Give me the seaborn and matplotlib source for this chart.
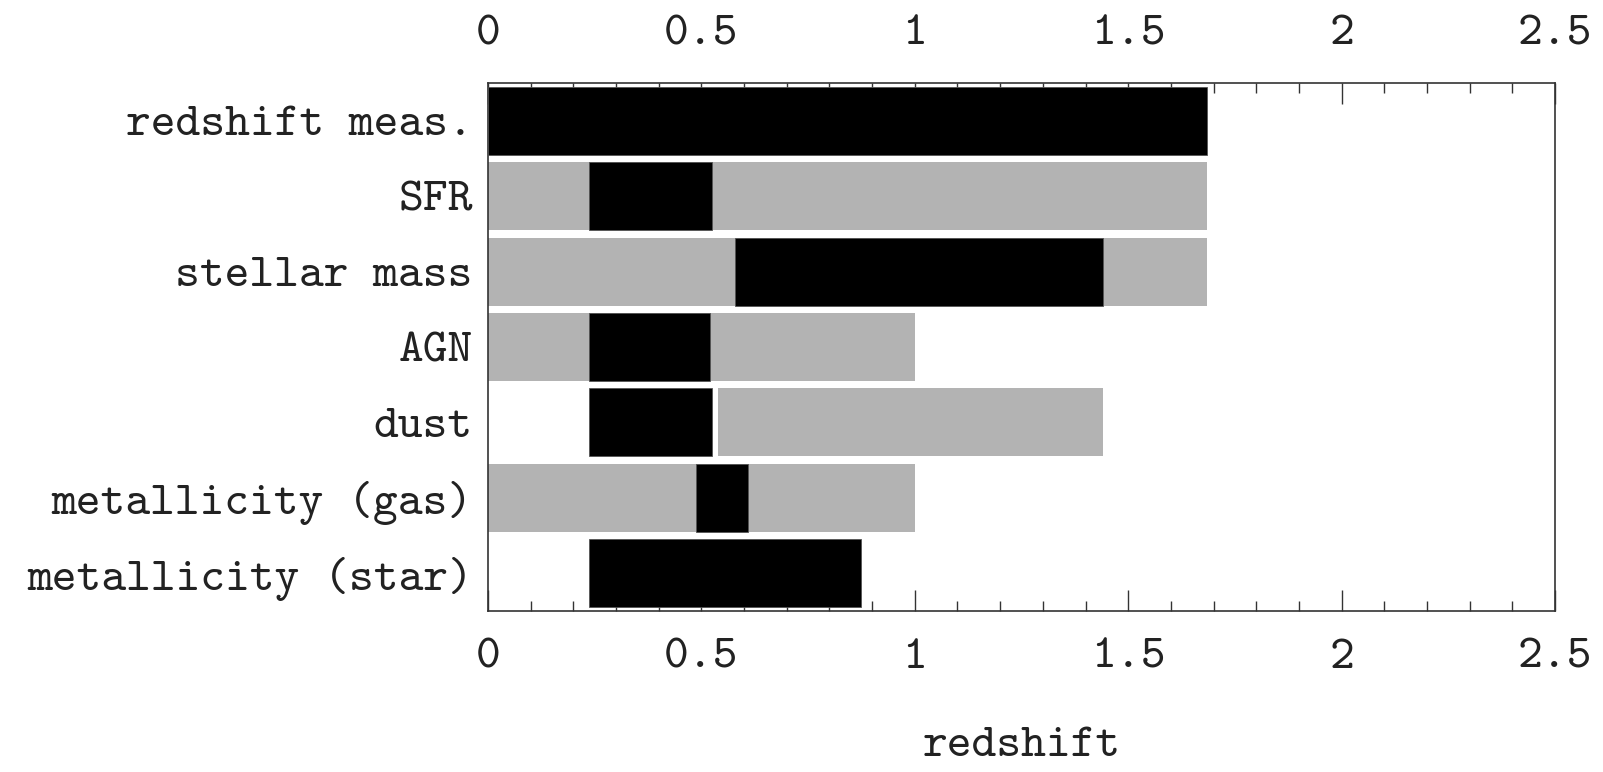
import numpy as np
import matplotlib
matplotlib.use("Agg")
import matplotlib.pyplot as plt
import seaborn as sns
from matplotlib.ticker import MultipleLocator, FuncFormatter

categories = ["redshift meas.", "SFR", "stellar mass", "AGN", "dust",
              "metallicity (gas)", "metallicity (star)"]
# gray (possible) range per category, NaN where absent
gray_start = [np.nan, 0.0, 0.0, 0.0, 0.54, 0.0, np.nan]
gray_end = [np.nan, 1.685, 1.685, 1.0, 1.44, 1.0, np.nan]
# black (achieved) range per category
black_start = [0.0, 0.237, 0.578, 0.237, 0.237, 0.487, 0.237]
black_end = [1.685, 0.525, 1.44, 0.52, 0.525, 0.61, 0.875]

sns.set_theme(style="white")
plt.rcParams["font.family"] = ["cmtt10", "DejaVu Serif"]
plt.rcParams["axes.formatter.use_mathtext"] = True

W, H = 1603, 772
fig = plt.figure(figsize=(W / 100, H / 100), dpi=100)
ax = fig.add_axes([488 / W, 1 - 611 / H, (1555 - 488) / W, (611 - 83) / H])

y = np.arange(len(categories))
gs = np.array(gray_start)
ge = np.array(gray_end)
bs = np.array(black_start)
be = np.array(black_end)
ok = ~np.isnan(gs)
ax.barh(y[ok], ge[ok] - gs[ok], left=gs[ok], height=0.9, color="#b3b3b3",
        edgecolor="none", zorder=2)
ax.barh(y, be - bs, left=bs, height=0.9, color="black",
        edgecolor="#555555", linewidth=0.6, zorder=3)

ax.set_xlim(0, 2.5)
ax.set_ylim(len(categories) - 0.5, -0.5)
ax.set_yticks(y)
ax.set_yticklabels(categories)
ax.xaxis.set_major_locator(MultipleLocator(0.5))
ax.xaxis.set_minor_locator(MultipleLocator(0.1))
ax.xaxis.set_major_formatter(FuncFormatter(lambda v, p: f"{v:g}"))

fs = 34
ax.tick_params(axis="x", which="both", direction="in", top=True, bottom=True,
               labeltop=True, labelbottom=True, color="#333333", width=1.0,
               labelsize=fs, labelcolor="#222222")
ax.tick_params(axis="x", which="major", length=15, pad=20)
ax.tick_params(axis="x", which="minor", length=7.5)
ax.tick_params(axis="y", which="both", length=0, pad=11, labelsize=fs,
               labelcolor="#222222")

for s in ax.spines.values():
    s.set_visible(True)
    s.set_color("#333333")
    s.set_linewidth(1.2)

ax.set_xlabel("redshift", fontsize=fs, color="#222222", labelpad=35)
ax.grid(False)

fig.savefig("out.png", dpi=100, facecolor="white")
